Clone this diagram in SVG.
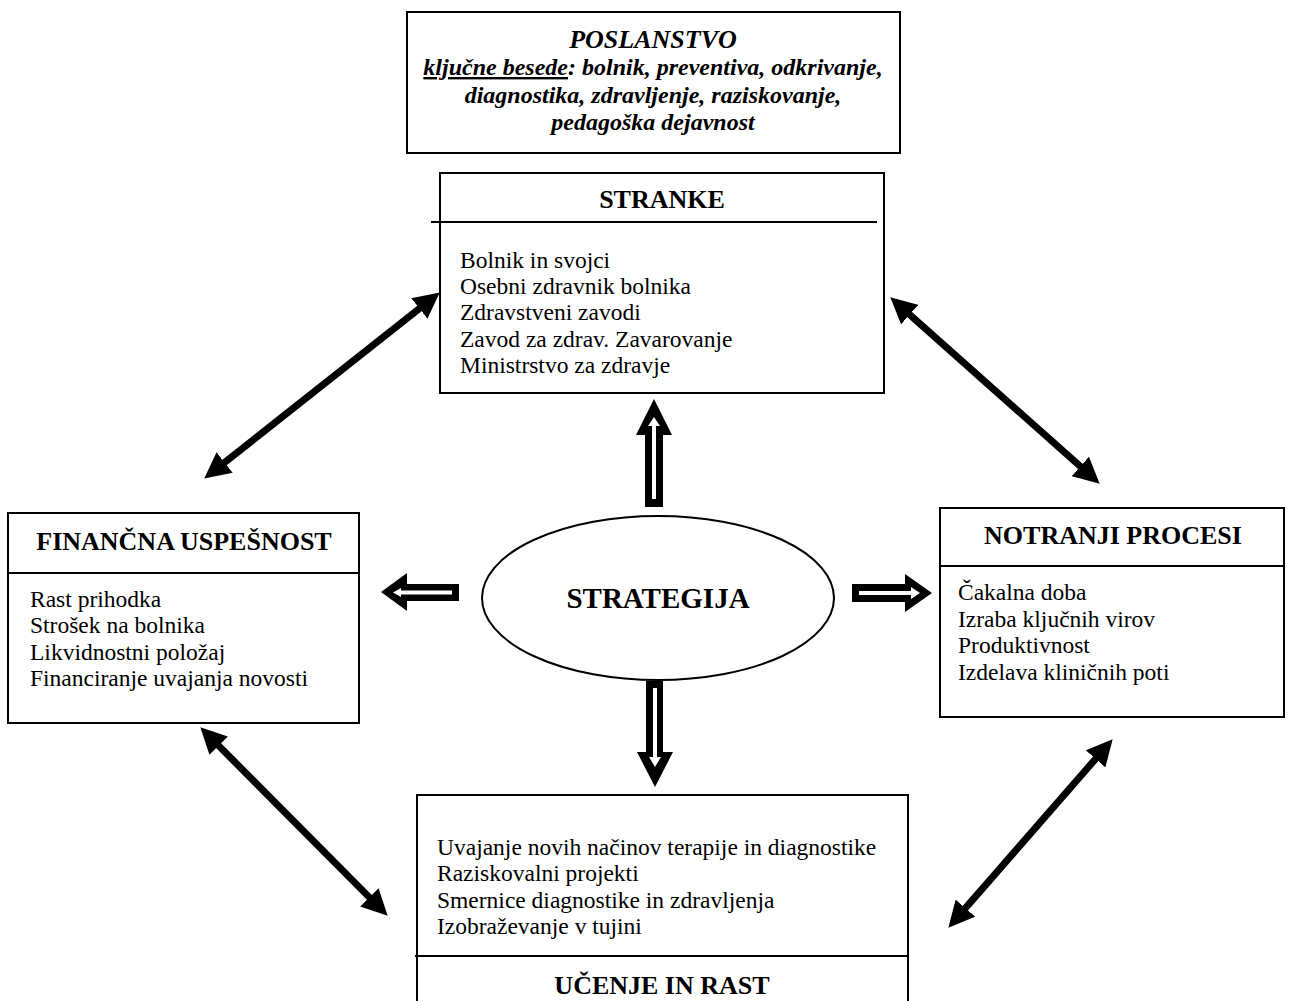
<svg xmlns="http://www.w3.org/2000/svg" width="1289" height="1001" viewBox="0 0 1289 1001">
  <style>
    .box { fill: #fff; stroke: #000; stroke-width: 2; }
    .rule { stroke: #000; stroke-width: 2; }
    .title { font-family: "Liberation Serif", "Times New Roman", serif; font-weight: bold; font-size: 26px; text-anchor: middle; fill: #000; }
    .item { font-family: "Liberation Serif", "Times New Roman", serif; font-size: 23.5px; fill: #000; }
    .mission { font-family: "Liberation Serif", "Times New Roman", serif; font-weight: bold; font-style: italic; font-size: 24px; text-anchor: middle; fill: #000; }
    .link { stroke: #000; stroke-width: 7; fill: none; marker-start: url(#head); marker-end: url(#head); }
    .outer { fill: #000; }
    .inner { fill: #fff; }
  </style>
  <defs>
    <marker id="head" viewBox="0 0 26 26" markerWidth="26" markerHeight="26" refX="11" refY="13" orient="auto-start-reverse" markerUnits="userSpaceOnUse">
      <path d="M0,0 L26,13 L0,26 Z" fill="#000"/>
    </marker>
  </defs>
  <rect width="1289" height="1001" fill="#fff"/>

  <!-- mission statement -->
  <g id="poslanstvo">
    <rect class="box" x="407" y="12" width="493" height="141"/>
    <text class="mission" x="653" y="48" style="font-size:26px">POSLANSTVO</text>
    <text class="mission" x="653" y="75"><tspan text-decoration="underline">ključne besede</tspan>: bolnik, preventiva, odkrivanje,</text>
    <text class="mission" x="653" y="103">diagnostika, zdravljenje, raziskovanje,</text>
    <text class="mission" x="653" y="130">pedagoška dejavnost</text>
  </g>

  <!-- customers -->
  <g id="stranke">
    <rect class="box" x="440" y="173" width="444" height="220"/>
    <line class="rule" x1="431" y1="222" x2="877" y2="222"/>
    <text class="title" x="662" y="208">STRANKE</text>
    <text class="item" x="460" y="268">Bolnik in svojci</text>
    <text class="item" x="460" y="294">Osebni zdravnik bolnika</text>
    <text class="item" x="460" y="320">Zdravstveni zavodi</text>
    <text class="item" x="460" y="347">Zavod za zdrav. Zavarovanje</text>
    <text class="item" x="460" y="373">Ministrstvo za zdravje</text>
  </g>

  <!-- finances -->
  <g id="financna">
    <rect class="box" x="8" y="513" width="351" height="210"/>
    <line class="rule" x1="8" y1="573" x2="359" y2="573"/>
    <text class="title" x="184" y="550">FINANČNA USPEŠNOST</text>
    <text class="item" x="30" y="607">Rast prihodka</text>
    <text class="item" x="30" y="633">Strošek na bolnika</text>
    <text class="item" x="30" y="660">Likvidnostni položaj</text>
    <text class="item" x="30" y="686">Financiranje uvajanja novosti</text>
  </g>

  <!-- strategy -->
  <g id="strategija">
    <ellipse class="box" cx="658" cy="598" rx="176" ry="82"/>
    <text class="title" x="658" y="608" style="font-size:29px">STRATEGIJA</text>
  </g>

  <!-- internal processes -->
  <g id="notranji">
    <rect class="box" x="940" y="508" width="344" height="209"/>
    <line class="rule" x1="940" y1="566" x2="1284" y2="566"/>
    <text class="title" x="1113" y="544">NOTRANJI PROCESI</text>
    <text class="item" x="958" y="600">Čakalna doba</text>
    <text class="item" x="958" y="627">Izraba ključnih virov</text>
    <text class="item" x="958" y="653">Produktivnost</text>
    <text class="item" x="958" y="680">Izdelava kliničnih poti</text>
  </g>

  <!-- learning and growth -->
  <g id="ucenje">
    <path class="box" d="M417,1003 V795 H908 V1003"/>
    <line class="rule" x1="415" y1="956" x2="908" y2="956"/>
    <text class="item" x="437" y="855">Uvajanje novih načinov terapije in diagnostike</text>
    <text class="item" x="437" y="881">Raziskovalni projekti</text>
    <text class="item" x="437" y="908">Smernice diagnostike in zdravljenja</text>
    <text class="item" x="437" y="934">Izobraževanje v tujini</text>
    <text class="title" x="662" y="994">UČENJE IN RAST</text>
  </g>

  <g id="connectors">
    <!-- two-way links between perspectives -->
    <line class="link" x1="428" y1="301.7" x2="216" y2="469.3"/>
    <line class="link" x1="901.5" y1="307.3" x2="1088.5" y2="473.7"/>
    <line class="link" x1="210.9" y1="737.9" x2="377.1" y2="905.1"/>
    <line class="link" x1="1102.8" y1="750.6" x2="958.2" y2="916.4"/>

    <!-- hollow block arrows from the strategy -->
    <polygon class="outer" points="654,399 672,435 663,435 663,507 645,507 645,435 636,435"/>
    <polygon class="inner" points="654,417 660,426 656,426 656,499 652,499 652,426 648,426"/>

    <polygon class="outer" points="381,592 407,573 407,584 459,584 459,601 407,601 407,611"/>
    <polygon class="inner" points="393,592.5 401,588 401,590.5 452,590.5 452,594.5 401,594.5 401,597"/>

    <polygon class="outer" points="852,584 905,584 905,574 932,593 905,612 905,602 852,602"/>
    <polygon class="inner" points="859,591 911,591 911,587 920,593 911,599 911,595 859,595"/>

    <polygon class="outer" points="646,681 663,681 663,752 673,752 655,787 637,752 646,752"/>
    <polygon class="inner" points="653,688 657,688 657,757 661,757 655,767 649,757 653,757"/>
  </g>
</svg>
